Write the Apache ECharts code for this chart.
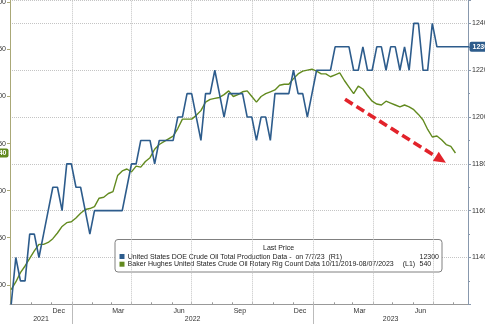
<!DOCTYPE html>
<html>
<head>
<meta charset="utf-8">
<script src="https://cdn.jsdelivr.net/npm/echarts@6/dist/echarts.min.js"></script>
<style>
html,body{margin:0;padding:0;background:#fff;overflow:hidden}
#c{width:485px;height:324px}
</style>
</head>
<body>
<div id="c"></div>
<script>
// ---------------- DATA ----------------
// weekly observations, first one Friday 1 Oct 2021
const firstWeek = [2021, 9, 1];
// United States DOE Crude Oil Total Production (R1, thousand b/d)
const productionValues = [
  11200, 11400, 11300, 11300, 11500, 11500, 11400, 11500, 11600, 11700,
  11700, 11600, 11800, 11800, 11700, 11700, 11600, 11500, 11600, 11600,
  11600, 11600, 11600, 11600, 11600, 11700, 11800, 11800, 11900, 11900,
  11900, 11800, 11900, 11900, 11900, 11900, 12000, 12000, 12100, 12100,
  12000, 11900, 12100, 12100, 12200, 12100, 12000, 12100, 12100, 12100,
  12100, 12000, 12000, 11900, 12000, 12000, 11900, 12100, 12100, 12100,
  12100, 12200, 12100, 12100, 12000, 12100, 12200, 12200, 12200, 12200,
  12300, 12300, 12300, 12300, 12200, 12200, 12300, 12200, 12200, 12300,
  12300, 12200, 12300, 12300, 12200, 12300, 12200, 12400, 12400, 12200,
  12200, 12400, 12300, 12300, 12300, 12300, 12300, 12300, 12300, 12300
];
// Baker Hughes US Crude Oil Rotary Rig Count (L1)
const rigValues = [
  395, 403, 413, 420, 428, 436, 443, 443, 445, 449,
  455, 462, 466, 467, 471, 476, 480, 481, 483, 492,
  493, 497, 499, 516, 521, 523, 520, 526, 525, 531,
  535, 544, 549, 552, 555, 558, 566, 576, 576, 576,
  580, 585, 594, 597, 598, 599, 602, 606, 600, 602,
  605, 606, 600, 594, 600, 603, 605, 607, 612, 613,
  613, 619, 624, 627, 628, 629, 627, 624, 624, 621,
  623, 625, 617, 610, 603, 611, 608, 601, 595, 592,
  591, 595, 593, 591, 589, 591, 589, 586, 581, 575,
  565, 557, 558, 554, 549, 547, 540
];
const lastProduction = 12300;
const lastRig = 540;
const leftTicks = [400, 450, 500, 550, 600, 650, 700];
const monthNames = ['Jan','Feb','Mar','Apr','May','Jun','Jul','Aug','Sep','Oct','Nov','Dec'];
const monthLabelDates = [[2021,11,12],[2022,2,12],[2022,5,12],[2022,8,12],[2022,11,12],[2023,2,12],[2023,5,12]];
const quarterStarts = [[2022,0,1],[2022,3,1],[2022,6,1],[2022,9,1],[2023,0,1],[2023,3,1],[2023,6,1]];
const yearStarts = [[2022,0,1],[2023,0,1]];
const arrowFrom = [[2023,1,18], 597];
const arrowTo = [[2023,6,13], 533];
const legendTitle = 'Last Price';
const legendRow1 = 'United States DOE Crude Oil Total Production Data -  on 7/7/23  (R1)';
const legendRow2 = 'Baker Hughes United States Crude Oil Rotary Rig Count Data 10/11/2019-08/07/2023';

// ---------------- STYLE ----------------
const BLUE = '#2d5c8c', GREEN = '#628a1f', RED = '#e2232b';
const FONT = 'Liberation Sans, Arial, sans-serif';
const GRID = {left: 10, right: 17, top: 0, bottom: 19.7};

const d = a => new Date(a[0], a[1], a[2]).getTime();
const weeks = n => { const o = []; for (let i = 0; i < n; i++) o.push(new Date(firstWeek[0], firstWeek[1], firstWeek[2] + 7 * i).getTime()); return o; };
const xMin = new Date(2021, 8, 29, 5).getTime();
const xMax = new Date(2023, 7, 23).getTime();

const prodDates = weeks(productionValues.length);
const rigDates = weeks(rigValues.length);
const prodData = productionValues.map((v, i) => [prodDates[i], v]);
const rigData = rigValues.map((v, i) => [rigDates[i], v]);

const monthTicks = [];
for (let y = 2021, m = 9; y < 2023 || m <= 7; ) { monthTicks.push(new Date(y, m, 1).getTime()); m++; if (m > 11) { m = 0; y++; } }
const yearLabelVals = [2021, 2022, 2023].map(y => {
  const a = Math.max(xMin, new Date(y, 0, 1).getTime());
  const b = Math.min(xMax, new Date(y + 1, 0, 1).getTime());
  return (a + b) / 2;
});

const chart = echarts.init(document.getElementById('c'), null, {renderer: 'canvas'});
const txt = {fontFamily: FONT, fontSize: 7, color: '#333'};

chart.setOption({
  animation: false,
  backgroundColor: '#fff',
  grid: Object.assign({containLabel: false, outerBoundsMode: 'none'}, GRID),
  xAxis: [{
    type: 'value', min: xMin, max: xMax, position: 'bottom', scale: true,
    axisLine: {onZero: false, lineStyle: {color: '#999', width: 1}},
    axisTick: {show: true, inside: true, length: 2, customValues: monthTicks, lineStyle: {color: '#999'}},
    axisLabel: Object.assign({customValues: monthLabelDates.map(d), margin: 3, hideOverlap: false,
      formatter: v => monthNames[new Date(v).getMonth()]}, txt),
    splitLine: {show: false}
  }, {
    type: 'value', min: xMin, max: xMax, position: 'bottom', scale: true,
    axisLine: {show: false, onZero: false},
    axisTick: {show: true, inside: false, length: 20, customValues: yearStarts.map(d), lineStyle: {color: '#bbb'}},
    axisLabel: Object.assign({customValues: yearLabelVals, margin: 11, hideOverlap: false,
      formatter: v => String(new Date(v).getFullYear())}, txt),
    splitLine: {show: false}
  }],
  yAxis: [{
    type: 'value', position: 'right', min: 11200, max: 12500, interval: 200,
    axisLine: {show: true, lineStyle: {color: '#8898ad'}},
    axisTick: {show: true, length: 3, lineStyle: {color: '#8898ad'}},
    minorTick: {show: true, splitNumber: 2, length: 2, lineStyle: {color: '#8898ad'}},
    axisLabel: Object.assign({margin: 4, showMinLabel: false, showMaxLabel: false, formatter: v => String(v)}, txt),
    splitLine: {show: true, lineStyle: {color: '#c4c4c4', type: 'dotted', width: 1}}
  }, {
    type: 'value', position: 'left', min: 379.3, max: 702.5,
    axisLine: {show: true, lineStyle: {color: '#aaa877'}},
    axisTick: {show: true, length: 3, customValues: leftTicks, lineStyle: {color: '#aaa877'}},
    axisLabel: Object.assign({margin: 4, customValues: leftTicks, formatter: v => String(v)}, txt),
    splitLine: {show: false}
  }],
  series: [{
    name: 'prod', type: 'line', xAxisIndex: 0, yAxisIndex: 0, data: prodData,
    showSymbol: false, symbol: 'none', z: 3, clip: true,
    lineStyle: {color: BLUE, width: 1.6}, itemStyle: {color: BLUE},
    markLine: {
      silent: true, symbol: 'none', z: 1, animation: false,
      label: {show: false},
      lineStyle: {color: '#c4c4c4', type: 'dotted', width: 1},
      data: quarterStarts.map(q => ({xAxis: d(q)}))
    }
  }, {
    name: 'rig', type: 'line', xAxisIndex: 0, yAxisIndex: 1, data: rigData,
    showSymbol: false, symbol: 'none', z: 2, clip: true,
    lineStyle: {color: GREEN, width: 1.4}, itemStyle: {color: GREEN},
    markLine: {
      silent: true, symbol: ['none', 'triangle'], symbolSize: [11, 12], z: 6, animation: false,
      label: {show: false},
      lineStyle: {color: RED, width: 3.6, type: [9, 4.5], opacity: 1},
      data: [[{coord: [d(arrowFrom[0]), arrowFrom[1]]}, {coord: [d(arrowTo[0]), arrowTo[1]]}]]
    }
  }]
});

const yB = chart.convertToPixel({yAxisIndex: 0}, lastProduction);
const yG = chart.convertToPixel({yAxisIndex: 1}, lastRig);
const W = 485, H = 324;
const rightX = W - GRID.right;
const leftX = GRID.left;
const f7 = '7px ' + FONT;

chart.setOption({
  graphic: [
    {type: 'rect', z: 20, shape: {x: rightX + 1.5, y: yB - 5, width: 34, height: 10, r: 2}, style: {fill: BLUE}},
    {type: 'text', z: 21, x: rightX + 4.5, y: yB, style: {text: String(lastProduction), font: 'bold ' + f7, fill: '#fff', verticalAlign: 'middle', align: 'left'}},
    {type: 'rect', z: 20, shape: {x: leftX - 24, y: yG - 4.5, width: 22.5, height: 9, r: 2}, style: {fill: GREEN}},
    {type: 'text', z: 21, x: leftX - 3.5, y: yG, style: {text: String(lastRig), font: 'bold ' + f7, fill: '#fff', verticalAlign: 'middle', align: 'right'}},
    {type: 'group', x: 115, y: 239.5, z: 30, children: [
      {type: 'rect', shape: {x: 0, y: 0, width: 327, height: 32.5, r: 3}, style: {fill: '#fff', stroke: '#808080', lineWidth: 1}},
      {type: 'text', x: 148, y: 9, style: {text: legendTitle, font: f7, fill: '#222', verticalAlign: 'middle'}},
      {type: 'rect', shape: {x: 4.5, y: 14.5, width: 5, height: 5}, style: {fill: BLUE}},
      {type: 'text', x: 12.7, y: 17.4, style: {text: legendRow1, font: f7, fill: '#222', verticalAlign: 'middle'}},
      {type: 'text', x: 304.5, y: 17.4, style: {text: String(lastProduction), font: f7, fill: '#222', verticalAlign: 'middle'}},
      {type: 'rect', shape: {x: 4.5, y: 22.2, width: 5, height: 5}, style: {fill: GREEN}},
      {type: 'text', x: 12.7, y: 25, style: {text: legendRow2, font: f7, fill: '#222', verticalAlign: 'middle'}},
      {type: 'text', x: 287.7, y: 25, style: {text: '(L1)', font: f7, fill: '#222', verticalAlign: 'middle'}},
      {type: 'text', x: 304.5, y: 25, style: {text: String(lastRig), font: f7, fill: '#222', verticalAlign: 'middle'}}
    ]}
  ]
});
</script>
</body>
</html>
